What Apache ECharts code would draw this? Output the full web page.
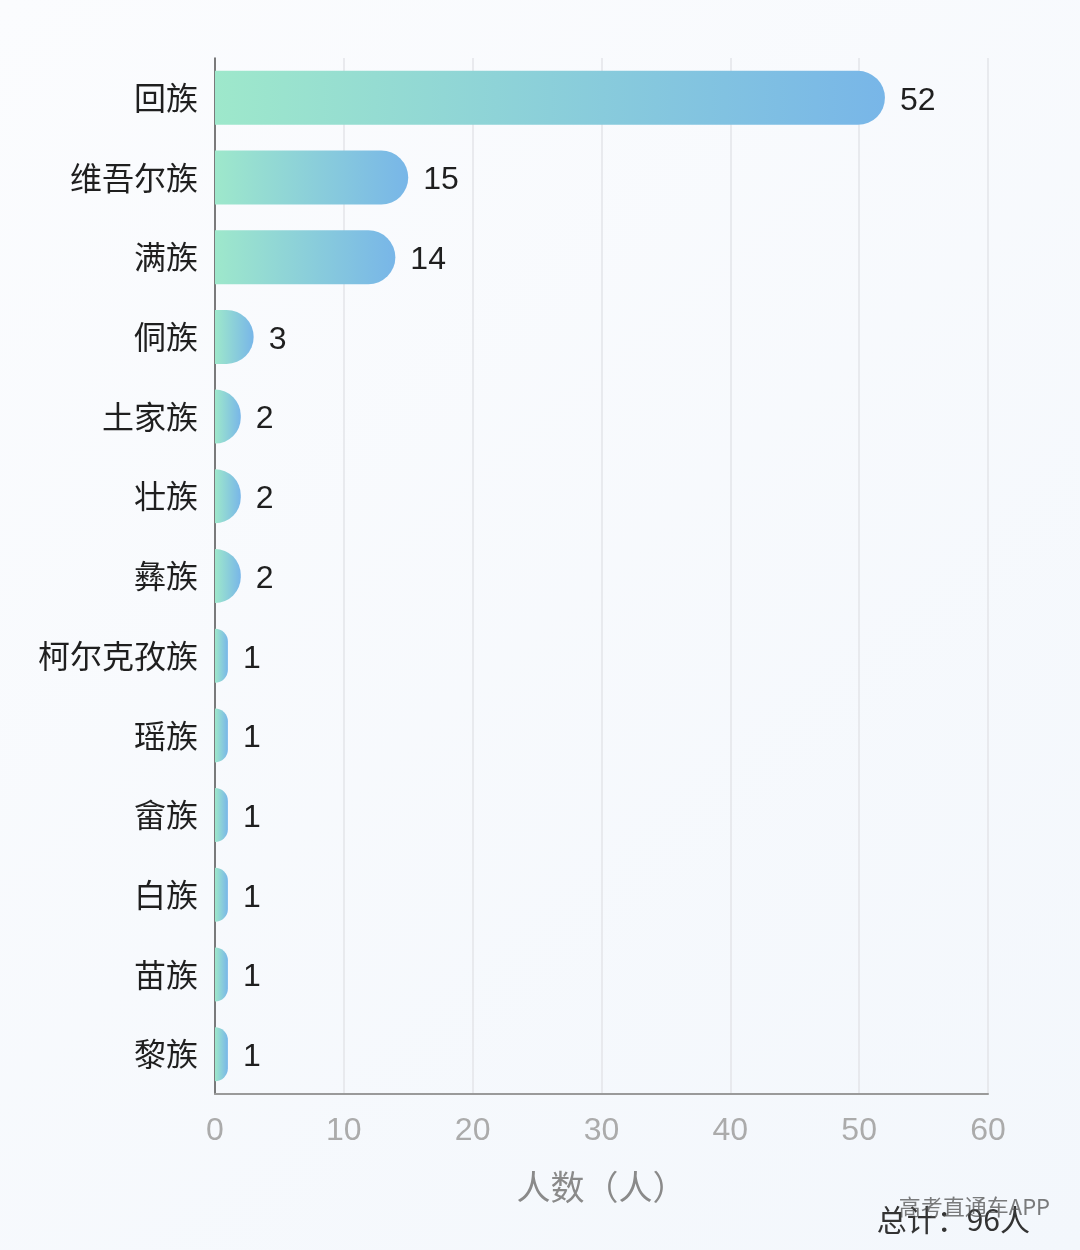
<!DOCTYPE html>
<html><head><meta charset="utf-8">
<script src="https://cdn.jsdelivr.net/npm/echarts@6/dist/echarts.min.js"></script>
<style>html,body{margin:0;padding:0;background:#f7f9fc;}#c{width:1080px;height:1250px;}</style>
</head><body><div id="c"></div>
<script>
const categories = ['回族','维吾尔族','满族','侗族','土家族','壮族','彝族','柯尔克孜族','瑶族','畲族','白族','苗族','黎族'];
const values = [52,15,14,3,2,2,2,1,1,1,1,1,1];
const xTicks = [0,10,20,30,40,50,60];
const axisName = '人数（人）';
const totalText = '总计：96人';
const watermark = '高考直通车APP';

const chart = echarts.init(document.getElementById('c'), null, {renderer:'canvas'});
const font = '"Noto Sans CJK SC", "Noto Sans", sans-serif';
const numFont = '"Liberation Sans", "Noto Sans CJK SC", sans-serif';
chart.setOption({
  backgroundColor: new echarts.graphic.LinearGradient(0,0,1,1,[{offset:0,color:'#fbfcfe'},{offset:1,color:'#f3f7fc'}]),
  grid: {left:215, right:92, top:58, bottom:156, containLabel:false},
  xAxis: {
    type:'value', min:xTicks[0], max:xTicks[xTicks.length-1], interval:10,
    name: axisName, nameLocation:'middle', nameGap:76,
    nameTextStyle:{fontSize:34, color:'#8a8a8a', fontFamily:font},
    axisLine:{show:true, lineStyle:{color:'#9a9a9a', width:2}},
    axisTick:{show:false},
    axisLabel:{fontSize:32, color:'#ababab', margin:18, fontFamily:numFont, padding:[3,0,0,0]},
    splitLine:{show:true, lineStyle:{color:'#e3e5e8', width:1.5}}
  },
  yAxis: {
    type:'category', data:categories, inverse:true,
    axisLine:{show:true, lineStyle:{color:'#555', width:1.5}},
    axisTick:{show:false},
    axisLabel:{fontSize:32, color:'#1f1f1f', margin:17, fontFamily:font}
  },
  series: [{
    type:'bar', data:values, barWidth:54,
    itemStyle:{
      borderRadius:[0,27,27,0],
      color:new echarts.graphic.LinearGradient(0,0,1,0,[{offset:0,color:'#9ee8cb'},{offset:1,color:'#78b6e8'}])
    },
    label:{show:true, position:'right', distance:15, offset:[0,3], fontSize:32, color:'#1f1f1f', fontFamily:numFont},
    silent:true, animation:false
  }],
  animation:false,
  graphic:[
    {type:'text', right:50, top:1205, style:{text:totalText, font:'30px '+font, fill:'#333'}},
    {type:'text', right:30, top:1196, style:{text:watermark, font:'22px '+font, fill:'rgba(80,80,80,0.75)'}}
  ]
});
</script></body></html>
